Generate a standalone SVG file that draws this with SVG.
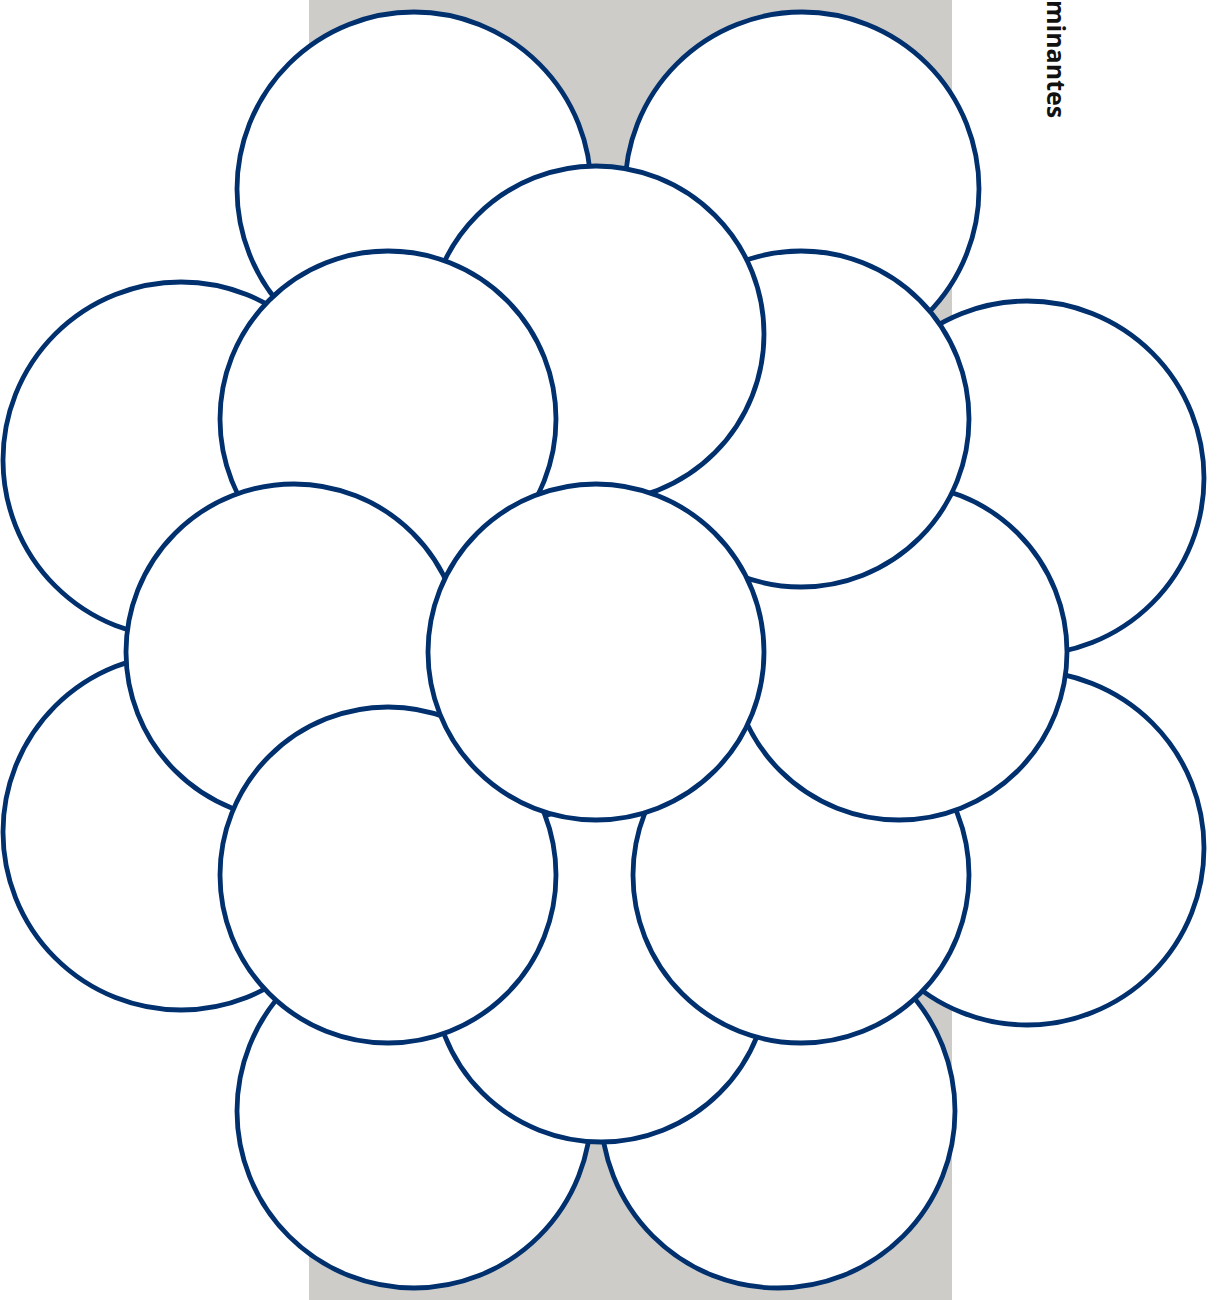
<svg xmlns="http://www.w3.org/2000/svg" width="1217" height="1300" viewBox="0 0 1217 1300">
<style>
.c{fill:#ffffff;stroke:#00306e;stroke-width:4.8}
.t{font-family:"Open Sans","Noto Sans",sans-serif;font-weight:bold;font-size:25px;fill:#111111}
</style>
<rect x="309" y="0" width="643" height="1300" fill="#cdccc8"/>
<g id="nodes">
<g id="n1"><circle class="c" cx="414" cy="189" r="177"/></g>
<g id="n2"><circle class="c" cx="802" cy="189" r="177"/></g>
<g id="n6"><circle class="c" cx="181" cy="460" r="178"/></g>
<g id="n7"><circle class="c" cx="1027" cy="478" r="177"/></g>
<g id="n11"><circle class="c" cx="181" cy="832" r="178"/></g>
<g id="n12"><circle class="c" cx="1027" cy="848" r="177"/></g>
<g id="n16"><circle class="c" cx="414" cy="1111" r="177"/></g>
<g id="n17"><circle class="c" cx="778" cy="1111" r="177"/></g>
<g id="n15"><circle class="c" cx="601" cy="974" r="168"/></g>
<g id="n14"><circle class="c" cx="801" cy="875" r="168"/></g>
<g id="n10"><circle class="c" cx="899" cy="652" r="168"/></g>
<g id="n5"><circle class="c" cx="801" cy="419" r="168"/></g>
<g id="n3"><circle class="c" cx="596" cy="334" r="168"/></g>
<g id="n4"><circle class="c" cx="388" cy="419" r="168"/></g>
<g id="n8"><circle class="c" cx="294" cy="652" r="168"/></g>
<g id="n13"><circle class="c" cx="388" cy="875" r="168"/></g>
<g id="n9"><circle class="c" cx="596" cy="652" r="168"/></g>
</g>
<g id="connectors"></g>
<g id="label"><text class="t" transform="translate(1047,0) rotate(90)">minantes</text></g>
</svg>
